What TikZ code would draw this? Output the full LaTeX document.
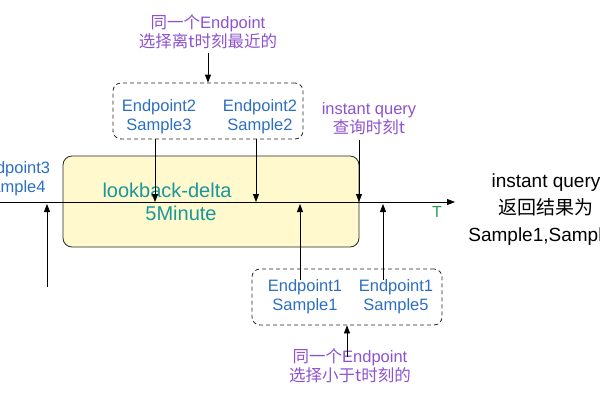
\documentclass[tikz,border=0pt]{standalone}
\usepackage{fontspec}
\setmainfont{Liberation Sans}
\newfontfamily\cjk{Noto Sans CJK SC}
\usetikzlibrary{arrows.meta}
\definecolor{ublue}{HTML}{2C6FC0}
\definecolor{upurp}{HTML}{8E52D0}
\definecolor{uteal}{HTML}{1A979C}
\definecolor{ugreen}{HTML}{2E9E55}
\definecolor{uyel}{HTML}{FFF9CD}
\begin{document}
\begin{tikzpicture}[x=1pt,y=-1pt,
  txt/.style={inner sep=0pt, align=center, font=\fontsize{16.5}{19}\selectfont},
  bluetxt/.style={txt, text=ublue},
  purptxt/.style={txt, text=upurp},
  dbox/.style={draw=black!85, dash pattern=on 4pt off 3pt, rounded corners=8pt, line width=0.8pt, minimum width=190pt, minimum height=56pt, inner sep=0pt},
  arr/.style={-{Triangle[length=8pt,width=6pt]}, line width=0.8pt},
]
\useasboundingbox (0,0) rectangle (600,400);
\clip (0,0) rectangle (600,400);

% yellow window
\node[draw=black!85, fill=uyel, rounded corners=9pt, line width=0.8pt, minimum width=296pt, minimum height=91pt, inner sep=0pt] (win) at (211,201.5) {};
\node[txt, text=uteal, font=\fontsize{20}{22}\selectfont] (lb) at (167,190) {lookback-delta};
\node[txt, text=uteal, font=\fontsize{20}{22}\selectfont] (min) at (181,213) {5Minute};

% timeline
\coordinate (tl0) at (0,202);
\coordinate (tl1) at (455,202);
\draw[arr] (tl0) -- (tl1);
\node[txt, text=ugreen, font=\fontsize{16}{18}\selectfont] (T) at (437,212) {T};

% top group
\node[purptxt] (lab1) at (208,32) {{\cjk 同一个}Endpoint\\{\cjk 选择离t时刻最近的}};
\node[dbox] (tb) at (208,111) {};
\node[bluetxt] (e2s3) at (159,116.5) {Endpoint2\\Sample3};
\node[bluetxt] (e2s2) at (260,116.5) {Endpoint2\\Sample2};
\draw[arr] ([yshift=-4pt]lab1.south) -- (lab1.south |- tb.north);
\draw[arr] ([xshift=-4pt]e2s3.center |- tb.south) -- ([xshift=-4pt]e2s3.center |- tl0);
\draw[arr] ([xshift=-4pt]e2s2.center |- tb.south) -- ([xshift=-4pt]e2s2.center |- tl0);

% instant query time
\node[purptxt] (iq) at (369,119) {instant query\\{\cjk 查询时刻t}};
\coordinate (qx) at (359,140);
\draw[arr] (qx) -- (qx |- tl0);

% left sample
\node[bluetxt] (e3s4) at (13,178.5) {Endpoint3\\Sample4};
\coordinate (b3) at (47,287);
\draw[arr] (b3) -- ([yshift=-2pt]b3 |- tl0);

% bottom group
\node[dbox] (bb) at (347,297) {};
\node[bluetxt] (e1s1) at (305,297) {Endpoint1\\Sample1};
\node[bluetxt] (e1s5) at (396,297) {Endpoint1\\Sample5};
\draw[arr] ([xshift=-5pt]e1s1.north) -- ([xshift=-5pt,yshift=-2pt]e1s1.north |- tl0);
\draw[arr] ([xshift=-13pt]e1s5.north) -- ([xshift=-13pt,yshift=-2pt]e1s5.north |- tl0);
\node[purptxt] (lab2) at (350,366) {{\cjk 同一个}Endpoint\\{\cjk 选择小于t时刻的}};
\draw[arr] ([xshift=-3pt,yshift=-8pt]lab2.north) -- ([xshift=-3pt]lab2.north |- bb.south);

% result
\node[txt, text=black, font=\fontsize{19}{27}\selectfont] (res) at (546,210) {instant query\\{\cjk 返回结果为}\\Sample1,Sample5};
\end{tikzpicture}
\end{document}
